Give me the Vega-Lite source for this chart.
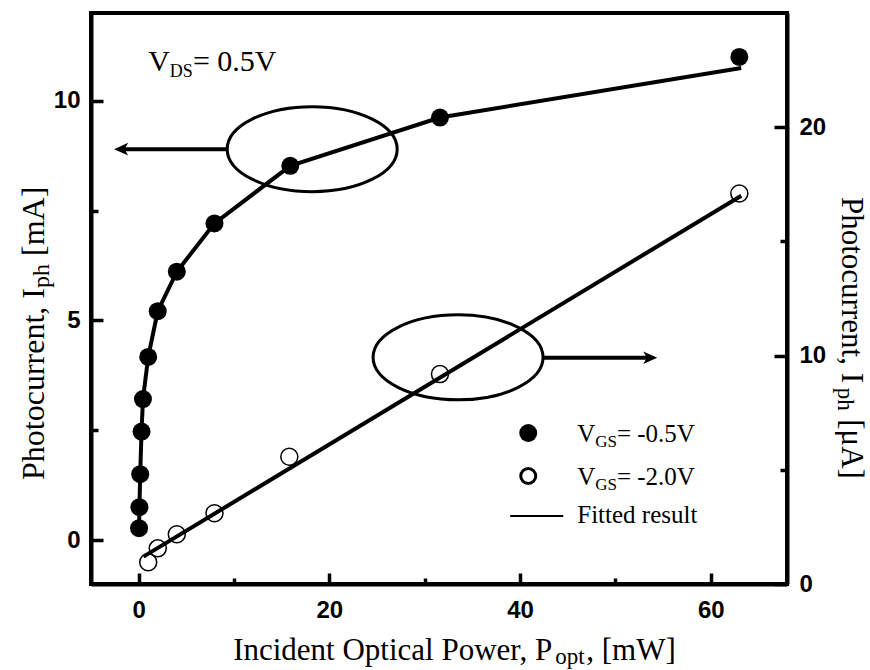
{
  "$schema": "https://vega.github.io/schema/vega-lite/v6.json",
  "width": 696,
  "height": 571,
  "autosize": {"type": "none"},
  "padding": {"left": 91, "top": 13, "right": 83, "bottom": 86},
  "background": "white",
  "config": {"view": {"stroke": "black", "strokeWidth": 4}},
  "datasets": {
    "filledA": [
      {"P": 0.04, "I": 0.27}, {"P": 0.08, "I": 0.75}, {"P": 0.16, "I": 1.5}, {"P": 0.3, "I": 2.47},
      {"P": 0.45, "I": 3.21}, {"P": 1.0, "I": 4.17}, {"P": 2.0, "I": 5.21}, {"P": 4.0, "I": 6.11},
      {"P": 7.95, "I": 7.21}, {"P": 15.9, "I": 8.52}, {"P": 31.6, "I": 9.62}, {"P": 63.0, "I": 11.0}
    ],
    "fitA": [
      {"P": 0.04, "I": 0.27}, {"P": 0.08, "I": 0.75}, {"P": 0.16, "I": 1.5}, {"P": 0.3, "I": 2.47},
      {"P": 0.45, "I": 3.21}, {"P": 1.0, "I": 4.17}, {"P": 2.0, "I": 5.21}, {"P": 4.0, "I": 6.11},
      {"P": 7.95, "I": 7.21}, {"P": 15.9, "I": 8.52}, {"P": 31.6, "I": 9.62}, {"P": 63.2, "I": 10.75}
    ],
    "openB": [
      {"P": 1.0, "I": 0.95}, {"P": 2.0, "I": 1.56}, {"P": 4.0, "I": 2.18}, {"P": 7.95, "I": 3.1},
      {"P": 15.8, "I": 5.57}, {"P": 31.6, "I": 9.19}, {"P": 63.0, "I": 17.1}
    ],
    "fitB": [{"P": 0.5, "I": 1.2}, {"P": 63.2, "I": 17.0}],
    "ellipses": [{"P": 18.2, "I": 8.9}, {"P": 33.5, "I": 4.16}],
    "arrows": [{"P": 9.39, "P2": -1.52, "I": 8.9}, {"P": 42.43, "P2": 53.34, "I": 4.15}],
    "headL": [{"P": -1.84, "I": 8.9}],
    "headR": [{"P": 53.66, "I": 4.15}],
    "legendLine": [{"P": 38.97, "P2": 44.53, "I": 0.548}],
    "legendFilled": [{"P": 40.86, "I": 2.438}],
    "legendOpen": [{"P": 40.86, "I": 1.459}],
    "textLegend": [
      {"P": 46.0, "I": 2.233, "t": "V"}, {"P": 50.16, "I": 2.233, "t": "= -0.5V"},
      {"P": 46.0, "I": 1.254, "t": "V"}, {"P": 50.16, "I": 1.254, "t": "= -2.0V"},
      {"P": 46.0, "I": 0.389, "t": "Fitted result"}
    ],
    "textLegendSub": [{"P": 47.88, "I": 2.119, "t": "GS"}, {"P": 47.88, "I": 1.14, "t": "GS"}],
    "textVds": [{"P": 1.0, "I": 10.68, "t": "V"}, {"P": 5.69, "I": 10.68, "t": "= 0.5V"}],
    "textVdsSub": [{"P": 3.27, "I": 10.544, "t": "DS"}],
    "xTitle": [{"P": 9.91, "I": -2.73, "t": "Incident Optical Power, P"}, {"P": 46.94, "I": -2.73, "t": ", [mW]"}],
    "xTitleSub": [{"P": 43.69, "I": -2.822, "t": "opt"}],
    "leftTitle": [{"P": -9.91, "I": 1.368, "t": "Photocurrent, I"}, {"P": -9.91, "I": 6.468, "t": "[mA]"}],
    "leftTitleSub": [{"P": -9.39, "I": 5.739, "t": "ph"}],
    "rightTitle": [{"P": 73.8, "I": 7.811, "t": "Photocurrent, I"}, {"P": 73.8, "I": 2.75, "t": "[μA]"}],
    "rightTitleSub": [{"P": 73.3, "I": 3.47, "t": "ph"}]
  },
  "encoding": {
    "x": {
      "field": "P", "type": "quantitative",
      "scale": {"domain": [-5, 68], "nice": false, "zero": false},
      "axis": {
        "orient": "bottom", "values": [0, 10, 20, 30, 40, 50, 60],
        "labelExpr": "datum.value % 20 === 0 ? datum.label : ''",
        "title": null, "grid": false,
        "domainColor": "black", "domainWidth": 4,
        "tickColor": "black", "tickWidth": 3.5,
        "tickSize": {"condition": {"test": "datum.value % 20 !== 0", "value": -6}, "value": -11},
        "labelFont": "Liberation Sans", "labelFontWeight": "bold", "labelFontSize": 24, "labelColor": "black",
        "labelPadding": 25, "labelFlush": false, "labelOverlap": false, "labelBound": false
      }
    }
  },
  "layer": [
    {
      "encoding": {
        "y": {
          "field": "I", "type": "quantitative",
          "scale": {"domain": [-1, 12], "nice": false, "zero": false},
          "axis": {
            "orient": "left", "values": [0, 2.5, 5, 7.5, 10],
            "labelExpr": "datum.value % 5 === 0 ? datum.label : ''",
            "title": null, "grid": false,
            "domainColor": "black", "domainWidth": 4,
            "tickColor": "black", "tickWidth": 3.5,
            "tickSize": {"condition": {"test": "datum.value % 5 !== 0", "value": -7}, "value": -12},
            "labelFont": "Liberation Sans", "labelFontWeight": "bold", "labelFontSize": 24, "labelColor": "black",
            "labelPadding": 23, "labelFlush": false, "labelOverlap": false, "labelBound": false
          }
        }
      },
      "layer": [
        {"data": {"name": "fitA"}, "mark": {"type": "line", "color": "black", "strokeWidth": 4}},
        {"data": {"name": "filledA"}, "mark": {"type": "point", "shape": "circle", "filled": true, "color": "black", "opacity": 1, "size": 324}},
        {"data": {"name": "ellipses"}, "mark": {"type": "point", "shape": "M -1 0 C -1 -0.2761 -0.5523 -0.5 0 -0.5 C 0.5523 -0.5 1 -0.2761 1 0 C 1 0.2761 0.5523 0.5 0 0.5 C -0.5523 0.5 -1 0.2761 -1 0 Z", "filled": false, "color": "black", "opacity": 1, "strokeWidth": 3, "size": 28900}},
        {"data": {"name": "arrows"}, "mark": {"type": "rule", "color": "black", "strokeWidth": 4}, "encoding": {"x2": {"field": "P2"}}},
        {"data": {"name": "headL"}, "mark": {"type": "point", "shape": "M -1 0 L 1 -0.9 L 0.5 0 L 1 0.9 Z", "filled": true, "color": "black", "opacity": 1, "size": 196}},
        {"data": {"name": "headR"}, "mark": {"type": "point", "shape": "M 1 0 L -1 -0.9 L -0.5 0 L -1 0.9 Z", "filled": true, "color": "black", "opacity": 1, "size": 196}},
        {"data": {"name": "legendLine"}, "mark": {"type": "rule", "color": "black", "strokeWidth": 2}, "encoding": {"x2": {"field": "P2"}}},
        {"data": {"name": "legendFilled"}, "mark": {"type": "point", "shape": "circle", "filled": true, "color": "black", "opacity": 1, "size": 324}},
        {"data": {"name": "legendOpen"}, "mark": {"type": "point", "shape": "circle", "filled": false, "color": "black", "opacity": 1, "strokeWidth": 3, "size": 225}},
        {"data": {"name": "textLegend"}, "mark": {"type": "text", "align": "left", "baseline": "alphabetic", "font": "Liberation Serif", "fontSize": 25, "color": "black"}, "encoding": {"text": {"field": "t"}}},
        {"data": {"name": "textLegendSub"}, "mark": {"type": "text", "align": "left", "baseline": "alphabetic", "font": "Liberation Serif", "fontSize": 17, "color": "black"}, "encoding": {"text": {"field": "t"}}},
        {"data": {"name": "textVds"}, "mark": {"type": "text", "align": "left", "baseline": "alphabetic", "font": "Liberation Serif", "fontSize": 30, "color": "black"}, "encoding": {"text": {"field": "t"}}},
        {"data": {"name": "textVdsSub"}, "mark": {"type": "text", "align": "left", "baseline": "alphabetic", "font": "Liberation Serif", "fontSize": 18, "color": "black"}, "encoding": {"text": {"field": "t"}}},
        {"data": {"name": "xTitle"}, "mark": {"type": "text", "align": "left", "baseline": "alphabetic", "font": "Liberation Serif", "fontSize": 31, "color": "black"}, "encoding": {"text": {"field": "t"}}},
        {"data": {"name": "xTitleSub"}, "mark": {"type": "text", "align": "left", "baseline": "alphabetic", "font": "Liberation Serif", "fontSize": 23, "color": "black"}, "encoding": {"text": {"field": "t"}}},
        {"data": {"name": "leftTitle"}, "mark": {"type": "text", "align": "left", "baseline": "alphabetic", "angle": 270, "font": "Liberation Serif", "fontSize": 32, "color": "black"}, "encoding": {"text": {"field": "t"}}},
        {"data": {"name": "leftTitleSub"}, "mark": {"type": "text", "align": "left", "baseline": "alphabetic", "angle": 270, "font": "Liberation Serif", "fontSize": 24, "color": "black"}, "encoding": {"text": {"field": "t"}}},
        {"data": {"name": "rightTitle"}, "mark": {"type": "text", "align": "left", "baseline": "alphabetic", "angle": 90, "font": "Liberation Serif", "fontSize": 31, "color": "black"}, "encoding": {"text": {"field": "t"}}},
        {"data": {"name": "rightTitleSub"}, "mark": {"type": "text", "align": "left", "baseline": "alphabetic", "angle": 90, "font": "Liberation Serif", "fontSize": 23, "color": "black"}, "encoding": {"text": {"field": "t"}}}
      ]
    },
    {
      "encoding": {
        "y": {
          "field": "I", "type": "quantitative",
          "scale": {"domain": [0, 25], "nice": false, "zero": false},
          "axis": {
            "orient": "right", "values": [0, 5, 10, 15, 20],
            "labelExpr": "datum.value % 10 === 0 ? datum.label : ''",
            "title": null, "grid": false,
            "domainColor": "black", "domainWidth": 4,
            "tickColor": "black", "tickWidth": 3.5,
            "tickSize": {"condition": {"test": "datum.value % 10 !== 0", "value": -7}, "value": -13},
            "labelFont": "Liberation Sans", "labelFontWeight": "bold", "labelFontSize": 24, "labelColor": "black",
            "labelPadding": 25, "labelFlush": false, "labelOverlap": false, "labelBound": false
          }
        }
      },
      "layer": [
        {"data": {"name": "fitB"}, "mark": {"type": "line", "color": "black", "strokeWidth": 4}},
        {"data": {"name": "openB"}, "mark": {"type": "point", "shape": "circle", "filled": false, "color": "black", "opacity": 1, "strokeWidth": 1.5, "size": 289}}
      ]
    }
  ],
  "resolve": {"scale": {"y": "independent"}}
}
